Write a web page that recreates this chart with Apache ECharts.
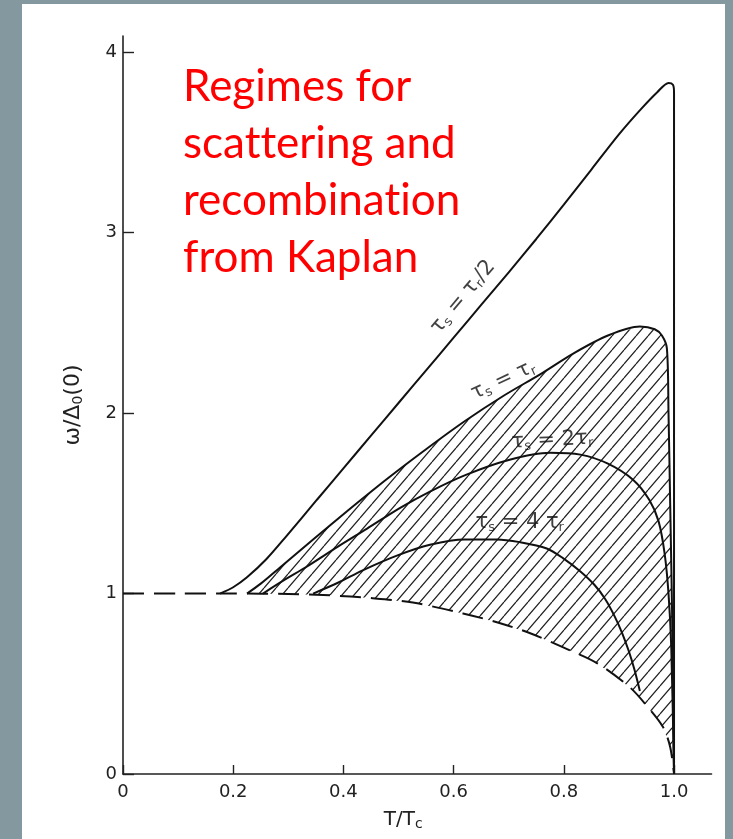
<!DOCTYPE html>
<html>
<head>
<meta charset="utf-8">
<script src="https://cdn.jsdelivr.net/npm/echarts@6/dist/echarts.min.js"></script>
<style>
html,body{margin:0;padding:0;background:#84989f;}
#c{width:733px;height:839px;}
</style>
</head>
<body>
<div id="c"></div>
<script>
// ---- data ----
const xTickLabels = ['0', '0.2', '0.4', '0.6', '0.8', '1.0'];
const yTickLabels = ['0', '1', '2', '3', '4'];

// lower dashed boundary
const gapT = [0, 0.1, 0.2, 0.3, 0.376, 0.45, 0.526, 0.617, 0.68, 0.739, 0.8, 0.86, 0.92, 0.95, 0.98, 0.993, 1.0];
const gapW = [1.0, 1.0, 1.0, 0.998, 0.99, 0.975, 0.95, 0.89, 0.84, 0.78, 0.70, 0.615, 0.48, 0.38, 0.26, 0.15, 0.0];

// tau_s = tau_r / 2
const halfT = [0.176, 0.20, 0.225, 0.26, 0.297, 0.352, 0.40, 0.45, 0.5, 0.55, 0.6, 0.65, 0.7, 0.75, 0.8, 0.85, 0.9, 0.94, 0.97, 0.99, 0.998, 1.0, 1.0];
const halfW = [1.0, 1.035, 1.09, 1.19, 1.32, 1.52, 1.694, 1.875, 2.056, 2.237, 2.418, 2.60, 2.78, 2.965, 3.155, 3.35, 3.545, 3.685, 3.78, 3.83, 3.82, 3.78, 0.0];

// tau_s = tau_r
const eqT = [0.225, 0.25, 0.285, 0.345, 0.406, 0.479, 0.55, 0.62, 0.69, 0.757, 0.817, 0.88, 0.938, 0.965, 0.978, 0.987, 0.99, 0.993, 0.997, 1.0];
const eqW = [1.0, 1.055, 1.145, 1.30, 1.455, 1.635, 1.80, 1.955, 2.095, 2.215, 2.33, 2.43, 2.48, 2.465, 2.43, 2.36, 2.0, 1.5, 0.8, 0.0];

// tau_s = 2 tau_r
const twoT = [0.254, 0.29, 0.334, 0.39, 0.443, 0.503, 0.557, 0.62, 0.7, 0.775, 0.83, 0.88, 0.926, 0.955, 0.972, 0.983, 0.99, 0.995, 1.0];
const twoW = [1.0, 1.07, 1.15, 1.26, 1.36, 1.475, 1.565, 1.655, 1.74, 1.78, 1.77, 1.72, 1.63, 1.52, 1.40, 1.22, 1.0, 0.7, 0.0];

// tau_s = 4 tau_r
const fourT = [0.345, 0.39, 0.436, 0.497, 0.557, 0.62, 0.678, 0.72, 0.769, 0.799, 0.829, 0.855, 0.875, 0.892, 0.906, 0.918, 0.928, 0.938];
const fourW = [1.0, 1.06, 1.13, 1.21, 1.27, 1.30, 1.30, 1.285, 1.25, 1.195, 1.125, 1.05, 0.97, 0.875, 0.78, 0.68, 0.58, 0.46];

// curve labels
const labelT = [0.617, 0.690, 0.779, 0.720];
const labelW = [2.643, 2.183, 1.850, 1.391];
const labelText = ['{t|τ}{s|s}{t| = τ}{s|r}{t|/2}', '{t|τ}{s|s}{t| = τ}{s|r}', '{t|τ}{s|s}{t| = 2τ}{s|r}', '{t|τ}{s|s}{t| = 4 τ}{s|r}'];
const labelRot = [50, 25, 3, 0];

const titleLines = ['Regimes for', 'scat\u200Ctering and', 'recombinat\u200Cion', 'from Kaplan'];

// ---- helpers ----
function pairs(xs, ys) { return xs.map((x, i) => [x, ys[i]]); }

function hatchPattern() {
  const w = 12, h = 14;
  const cv = document.createElement('canvas');
  cv.width = w; cv.height = h;
  const g = cv.getContext('2d');
  g.strokeStyle = '#222';
  g.lineWidth = 1.25;
  g.beginPath();
  g.moveTo(0, h); g.lineTo(w, 0);
  g.moveTo(-w, h); g.lineTo(0, 0);
  g.moveTo(w, h); g.lineTo(2 * w, 0);
  g.stroke();
  return { image: cv, repeat: 'repeat' };
}

const chart = echarts.init(document.getElementById('c'), null, { renderer: 'canvas' });
const pattern = hatchPattern();
const lineColor = '#111';
const rich = {
  t: { fontSize: 21, fontFamily: 'DejaVu Sans', color: '#111', lineHeight: 24 },
  s: { fontSize: 13, fontFamily: 'DejaVu Sans', color: '#111', lineHeight: 14, padding: [10, 0, 0, 0] }
};

function solid(name, xs, ys) {
  return {
    type: 'line', name: name, data: pairs(xs, ys), showSymbol: false, smooth: 0.3,
    lineStyle: { color: lineColor, width: 2 }, z: 5, silent: true
  };
}

const option = {
  backgroundColor: 'transparent',
  animation: false,
  graphic: [
    { type: 'rect', left: 22, top: 4, shape: { width: 703, height: 835 }, style: { fill: '#ffffff' }, z: -10 },
    { type: 'text', left: 183, top: 58, z: 10,
      style: { text: titleLines.join('\n'), fill: '#ff0000', font: '44px Lato', lineHeight: 57 } }
  ],
  grid: { left: 123, right: 21.5, top: 36, bottom: 65 },
  xAxis: {
    type: 'value', min: 0, max: 1.068, interval: 0.2,
    name: 'T/T{s|c}', nameLocation: 'middle', nameGap: 34,
    nameTextStyle: { fontSize: 20, fontFamily: 'DejaVu Sans', color: '#222', padding: [0, 28, 0, 0],
      rich: { s: { fontSize: 14, fontFamily: 'DejaVu Sans', color: '#222', padding: [9, 0, 0, 0] } } },
    axisLine: { show: true, onZero: false, lineStyle: { color: '#222', width: 1.6 } },
    axisTick: { show: true, inside: true, length: 9, lineStyle: { color: '#222', width: 1.4 } },
    axisLabel: { fontSize: 18, fontFamily: 'DejaVu Sans', color: '#222', margin: 9,
      showMaxLabel: false,
      formatter: v => xTickLabels[Math.round(v / 0.2)] || '' },
    splitLine: { show: false }
  },
  yAxis: {
    type: 'value', min: 0, max: 4.09, interval: 1,
    name: 'ω/Δ{s|0}(0)', nameLocation: 'middle', nameGap: 38, nameRotate: 90,
    nameTextStyle: { fontSize: 22, fontFamily: 'DejaVu Sans', color: '#222',
      rich: { s: { fontSize: 14, fontFamily: 'DejaVu Sans', color: '#222', padding: [10, 0, 0, 0] } } },
    axisLine: { show: true, onZero: false, lineStyle: { color: '#222', width: 1.6 } },
    axisTick: { show: true, inside: true, length: 11, lineStyle: { color: '#222', width: 1.4 } },
    axisLabel: { fontSize: 18, fontFamily: 'DejaVu Sans', color: '#222', margin: 6,
      showMaxLabel: false,
      formatter: v => yTickLabels[Math.round(v)] || '' },
    splitLine: { show: false }
  },
  series: [
    {
      type: 'custom', name: 'hatch', data: [[0, 0]], z: 2, silent: true, clip: true,
      renderItem: function (params, api) {
        const pts = [];
        for (let i = 0; i < eqT.length; i++) pts.push(api.coord([eqT[i], eqW[i]]));
        for (let i = gapT.length - 1; i >= 0; i--) {
          if (gapT[i] > eqT[0]) pts.push(api.coord([gapT[i], gapW[i]]));
        }
        return { type: 'polygon', shape: { points: pts, smooth: 0 }, style: { fill: pattern, stroke: null } };
      }
    },
    {
      type: 'line', name: 'gap', data: pairs(gapT, gapW), showSymbol: false, smooth: 0.3,
      lineStyle: { color: lineColor, width: 2, type: [21, 10] }, z: 4, silent: true
    },
    solid('τs = τr/2', halfT, halfW),
    solid('τs = τr', eqT, eqW),
    solid('τs = 2τr', twoT, twoW),
    solid('τs = 4τr', fourT, fourW),
    {
      type: 'scatter', name: 'labels', symbolSize: 0, silent: true, z: 8,
      data: labelT.map((t, i) => ({
        value: [t, labelW[i]],
        label: { show: true, position: 'inside', rotate: labelRot[i], formatter: labelText[i], rich: rich }
      }))
    }
  ]
};
chart.setOption(option);
</script>
</body>
</html>
